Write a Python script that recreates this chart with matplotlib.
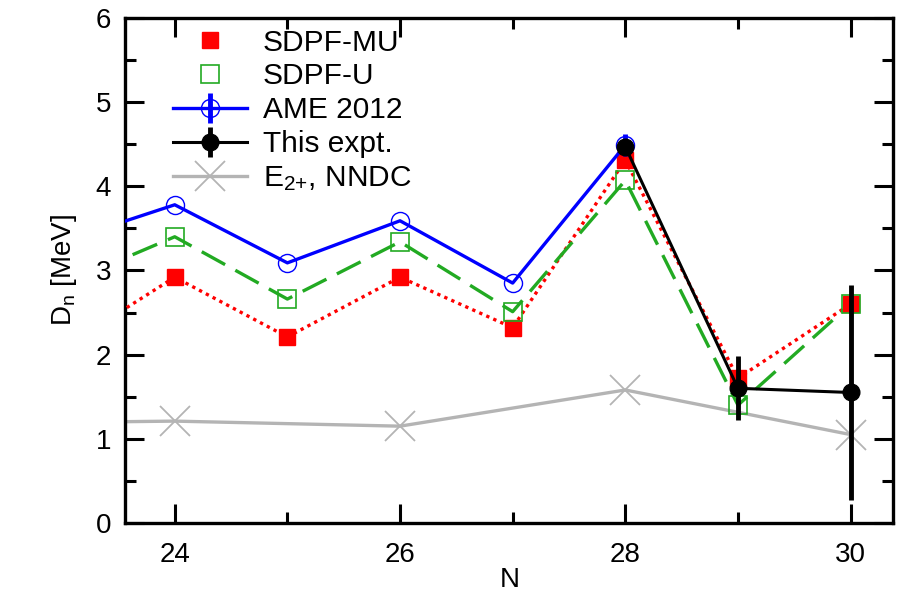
import matplotlib
matplotlib.use("Agg")
import matplotlib.pyplot as plt
from matplotlib.ticker import MultipleLocator

plt.rcParams["font.family"] = ["Liberation Sans", "DejaVu Sans"]
plt.rcParams["mathtext.default"] = "regular"

# Shell-model calculations
n_calc = [23, 24, 25, 26, 27, 28, 29, 30]
sdpf_mu = [2.07, 2.92, 2.21, 2.92, 2.32, 4.31, 1.72, 2.60]
sdpf_u = [2.83, 3.40, 2.66, 3.34, 2.51, 4.07, 1.40, 2.60]

# AME 2012
n_ame = [23, 24, 25, 26, 27, 28]
ame = [3.34, 3.78, 3.09, 3.59, 2.85, 4.49]
ame_err = [0.0, 0.0, 0.0, 0.0, 0.0, 0.13]

# This experiment
n_expt = [28, 29, 30]
expt = [4.47, 1.60, 1.55]
expt_err = [0.0, 0.38, 1.28]

# E2+ from NNDC
n_e2 = [22, 24, 26, 28, 30]
e2 = [1.18, 1.21, 1.15, 1.58, 1.05]

fig, ax = plt.subplots(figsize=(9.07, 5.97), dpi=100)
fig.subplots_adjust(left=0.138, right=0.985, bottom=0.124, top=0.970)

ax.plot(n_e2, e2, color="#b4b4b4", lw=2.4, marker="x", ms=21, mew=1.3,
        label="E$_{2{+}}$, NNDC", zorder=2)
ax.plot(n_calc, sdpf_mu, color="red", lw=2.4, ls=(0, (1, 1.3)), zorder=3)
ax.plot(n_calc, sdpf_mu, color="red", ls="none", marker="s", ms=12,
        label="SDPF-MU", zorder=4)
ax.plot(n_calc, sdpf_u, color="#22aa22", lw=2.4, ls=(0, (8, 3.5)), zorder=3)
ax.plot(n_calc, sdpf_u, color="#22aa22", ls="none", marker="s", ms=13,
        mfc="none", mew=1.2, label="SDPF-U", zorder=4)
ax.errorbar(n_ame, ame, yerr=ame_err, color="blue", lw=2.4, elinewidth=3.5,
            marker="o", ms=13, mfc="none", mew=1.0, capsize=0,
            label="AME 2012", zorder=5)
ax.errorbar(n_expt, expt, yerr=expt_err, color="black", lw=2.2, elinewidth=3.5,
            marker="o", ms=12, capsize=0, label="This expt.", zorder=6)

ax.set_xlim(23.56, 30.38)
ax.set_ylim(0, 6)
ax.xaxis.set_major_locator(MultipleLocator(2))
ax.xaxis.set_minor_locator(MultipleLocator(1))
ax.yaxis.set_major_locator(MultipleLocator(1))
ax.yaxis.set_minor_locator(MultipleLocator(0.5))
ax.tick_params(which="both", direction="in", top=True, right=True, width=2.2,
               labelsize=20)
ax.tick_params(axis="x", pad=14)
ax.tick_params(axis="y", pad=10)
ax.tick_params(which="major", length=14)
ax.tick_params(which="minor", length=8)
for sp in ax.spines.values():
    sp.set_linewidth(2.4)

ax.set_xlabel("N", fontsize=20, labelpad=-1)
ax.set_ylabel("D$_n$ [MeV]", fontsize=20, labelpad=12)

h, l = ax.get_legend_handles_labels()
order = ["SDPF-MU", "SDPF-U", "AME 2012", "This expt.", "E$_{2{+}}$, NNDC"]
hd = dict(zip(l, h))
ax.legend([hd[k] for k in order], order, loc="upper left",
          bbox_to_anchor=(0.062, 0.979), frameon=False, fontsize=21.5,
          handlelength=2.47, handletextpad=0.54, labelspacing=0.2, borderpad=0,
          borderaxespad=0)

plt.savefig("out.png", dpi=100)
plt.close(fig)
